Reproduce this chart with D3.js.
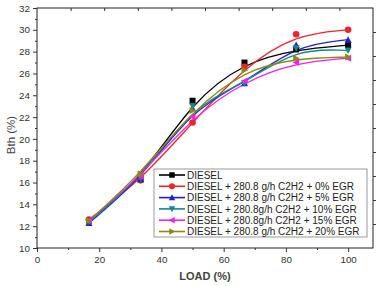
<!DOCTYPE html>
<html><head><meta charset="utf-8">
<script src="https://cdn.jsdelivr.net/npm/d3@7"></script>
<style>body{margin:0;background:#fff}svg{display:block}</style>
</head><body>
<svg id="c" width="385" height="286"></svg>
<script>
const loads = [16.7, 33.3, 50, 66.7, 83.3, 100];
const seriesNames = [
  "DIESEL",
  "DIESEL + 280.8 g/h C2H2 + 0% EGR",
  "DIESEL + 280.8 g/h C2H2 + 5% EGR",
  "DIESEL + 280.8g/h C2H2 + 10% EGR",
  "DIESEL + 280.8g/h C2H2 + 15% EGR",
  "DIESEL + 280.8 g/h C2H2 + 20% EGR"
];
const diesel = [12.5, 16.3, 23.5, 27.0, 28.2, 28.6];
const egr0   = [12.6, 16.2, 21.5, 26.6, 29.6, 30.0];
const egr5   = [12.3, 16.3, 22.8, 25.1, 28.6, 29.1];
const egr10  = [12.4, 16.4, 23.0, 25.1, 28.3, 28.1];
const egr15  = [12.5, 16.6, 22.0, 25.3, 27.0, 27.4];
const egr20  = [12.5, 16.8, 22.6, 26.3, 27.4, 27.5];
const xTicks = [0, 20, 40, 60, 80, 100];
const yTicks = [10, 12, 14, 16, 18, 20, 22, 24, 26, 28, 30, 32];

const values = [diesel, egr0, egr5, egr10, egr15, egr20];
const colors = ["#000000", "#e8262b", "#2020d0", "#138a8a", "#ee22ee", "#8a8a10"];
const symbols = ["square", "circle", "up", "down", "left", "right"];

const L = 37, T = 8, R = 373, B = 248;
const svg = d3.select("#c");
const x = d3.scaleLinear().domain([0, 108]).range([L, R]);
const y = d3.scaleLinear().domain([10, 32]).range([B, T]);

svg.append("rect").attr("x", L).attr("y", T).attr("width", R - L).attr("height", B - T)
  .attr("fill", "none").attr("stroke", "#222").attr("stroke-width", 1);

const tickFont = "Liberation Sans, Arial, sans-serif";
svg.append("g").attr("transform", `translate(0,${B})`)
  .call(d3.axisBottom(x).tickValues(xTicks).tickSize(4).tickPadding(4).tickFormat(d3.format("d")));
svg.append("g").attr("transform", `translate(0,${B})`)
  .call(d3.axisBottom(x).tickValues(d3.range(10, 108, 20)).tickSize(2).tickFormat(""));
svg.append("g").attr("transform", `translate(${L},0)`)
  .call(d3.axisLeft(y).tickValues(yTicks).tickSize(4).tickPadding(3));
svg.append("g").attr("transform", `translate(${L},0)`)
  .call(d3.axisLeft(y).tickValues(d3.range(11, 32, 2)).tickSize(2).tickFormat(""));
const xt = d3.scaleLinear().domain([0, 10]).range([L, R]);
svg.append("g").attr("transform", `translate(0,${T})`)
  .call(d3.axisBottom(xt).tickValues(d3.range(1, 10)).tickSize(3).tickFormat(""));
const yr = d3.scaleLinear().domain([0, 10]).range([B, T]);
svg.append("g").attr("transform", `translate(${R},0)`)
  .call(d3.axisRight(yr).tickValues(d3.range(1, 10)).tickSize(3).tickFormat(""));

svg.selectAll(".domain").attr("stroke", "none");
svg.selectAll(".tick line").attr("stroke", "#333");
svg.selectAll(".tick text").attr("font-family", tickFont).attr("font-size", 9.8).attr("fill", "#333");

svg.append("text").attr("x", (L + R) / 2).attr("y", 280).attr("text-anchor", "middle")
  .attr("font-family", tickFont).attr("font-size", 11).attr("font-weight", "bold").attr("fill", "#444")
  .text("LOAD (%)");
svg.append("text").attr("transform", `translate(15,${135}) rotate(-90)`).attr("text-anchor", "middle")
  .attr("font-family", tickFont).attr("font-size", 11.5).attr("fill", "#444")
  .text("Bth (%)");

function markerPath(sym, cx, cy, s) {
  const h = s / 2;
  switch (sym) {
    case "square": return `M${cx-h},${cy-h}h${s}v${s}h${-s}Z`;
    case "up": return `M${cx},${cy-h-0.5}L${cx+h+0.5},${cy+h}L${cx-h-0.5},${cy+h}Z`;
    case "down": return `M${cx},${cy+h+0.5}L${cx+h+0.5},${cy-h}L${cx-h-0.5},${cy-h}Z`;
    case "left": return `M${cx-h-0.5},${cy}L${cx+h},${cy-h-0.5}L${cx+h},${cy+h+0.5}Z`;
    case "right": return `M${cx+h+0.5},${cy}L${cx-h},${cy-h-0.5}L${cx-h},${cy+h+0.5}Z`;
  }
}
function drawMarker(g, sym, cx, cy, s, color) {
  if (sym === "circle") {
    g.append("circle").attr("cx", cx).attr("cy", cy).attr("r", s / 2 + 0.3).attr("fill", color);
  } else {
    g.append("path").attr("d", markerPath(sym, cx, cy, s)).attr("fill", color);
  }
}

const line = d3.line().x(d => x(d[0])).y(d => y(d[1])).curve(d3.curveBasis);
const plot = svg.append("g");
values.forEach((vals, i) => {
  const pts = loads.map((l, j) => [l, vals[j]]);
  plot.append("path").attr("d", line(pts)).attr("fill", "none")
    .attr("stroke", colors[i]).attr("stroke-width", 1.3);
});
values.forEach((vals, i) => {
  loads.forEach((l, j) => drawMarker(plot, symbols[i], x(l), y(vals[j]), 6, colors[i]));
});

const lg = svg.append("g");
lg.append("rect").attr("x", 154).attr("y", 169).attr("width", 213).attr("height", 68)
  .attr("fill", "#fff").attr("stroke", "#999").attr("stroke-width", 1);
seriesNames.forEach((name, i) => {
  const yy = 175 + i * 11.3;
  lg.append("line").attr("x1", 159).attr("x2", 185).attr("y1", yy).attr("y2", yy)
    .attr("stroke", colors[i]).attr("stroke-width", 1.6);
  drawMarker(lg, symbols[i], 172, yy, 5.5, colors[i]);
  lg.append("text").attr("x", 187).attr("y", yy + 3.6).attr("font-family", tickFont)
    .attr("font-size", 10).attr("fill", "#222").text(name);
});
</script>
</body></html>
